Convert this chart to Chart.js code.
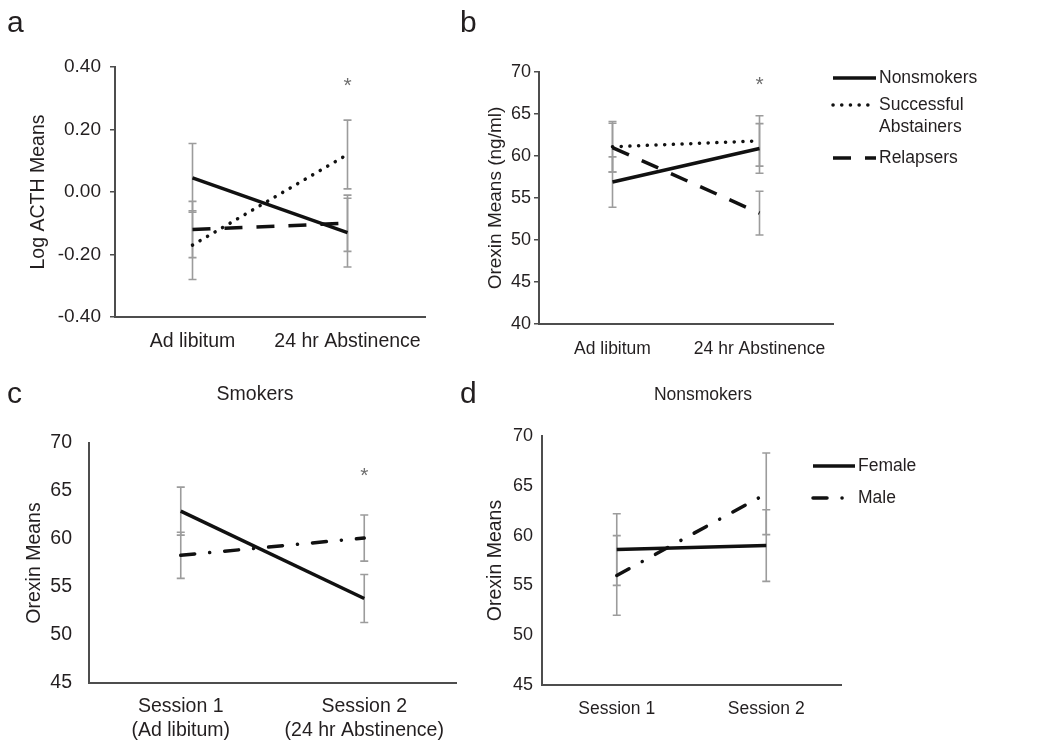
<!DOCTYPE html>
<html>
<head>
<meta charset="utf-8">
<script src="https://cdn.jsdelivr.net/npm/chart.js@4.4.1/dist/chart.umd.min.js"></script>
<style>
  body { margin: 0; background: #fff; width: 1050px; height: 749px; position: relative; overflow: hidden;
         font-family: "Liberation Sans", Arial, sans-serif; color: #231f20; }
  canvas { position: absolute; }
  .lbl { position: absolute; font-size: 30px; line-height: 30px; }
  .ttl { position: absolute; line-height: 18px; transform: translateX(-50%); white-space: nowrap; }
</style>
</head>
<body>
<canvas id="chartA" width="460" height="370" style="left:0;top:0"></canvas>
<canvas id="chartB" width="590" height="370" style="left:460px;top:0"></canvas>
<canvas id="chartC" width="460" height="379" style="left:0;top:370px"></canvas>
<canvas id="chartD" width="590" height="379" style="left:460px;top:370px"></canvas>

<div class="lbl" style="left:7px;top:7px">a</div>
<div class="lbl" style="left:460px;top:7px">b</div>
<div class="lbl" style="left:7px;top:378px">c</div>
<div class="lbl" style="left:460px;top:378px">d</div>
<div class="ttl" style="left:255px;top:384px;font-size:19.5px">Smokers</div>
<div class="ttl" style="left:703px;top:385px;font-size:17.5px">Nonsmokers</div>

<script>
// categories
const abstinenceLabels = ['Ad libitum', '24 hr Abstinence'];
const sessionLabelsLong = [['Session 1', '(Ad libitum)'], ['Session 2', '(24 hr Abstinence)']];
const sessionLabels = ['Session 1', 'Session 2'];

// tick labels
const acthTicks = [-0.40, -0.20, 0.00, 0.20, 0.40];
const orexinTicksB = [40, 45, 50, 55, 60, 65, 70];
const orexinTicksCD = [45, 50, 55, 60, 65, 70];

// panel a - log ACTH
const acthNonsmokers = [0.045, -0.13];
const acthNonsmokersErr = [0.11, 0.11];
const acthAbstainers = [-0.17, 0.12];
const acthAbstainersErr = [0.11, 0.11];
const acthRelapsers = [-0.12, -0.10];
const acthRelapsersErr = [0.09, 0.09];
const acthStar = [null, 0.36];

// panel b - orexin by group
const orexinNonsmokers = [56.9, 60.9];
const orexinNonsmokersErr = [3.0, 2.95];
const orexinAbstainers = [61.1, 61.8];
const orexinAbstainersErr = [3.0, 3.0];
const orexinRelapsers = [61.0, 53.2];
const orexinRelapsersErr = [2.9, 2.6];
const orexinStar = [null, 69.2];

// panel c - smokers by sex
const smokersFemale = [62.9, 53.8];
const smokersFemaleErr = [2.5, 2.5];
const smokersMale = [58.3, 60.1];
const smokersMaleErr = [2.4, 2.4];
const smokersStar = [null, 67.2];

// panel d - nonsmokers by sex
const nonsmokersFemale = [58.6, 59.0];
const nonsmokersFemaleErr = [3.6, 3.6];
const nonsmokersMale = [56.0, 64.2];
const nonsmokersMaleErr = [4.0, 4.1];

const FONT = '"Liberation Sans", Arial, sans-serif';
const INK = '#231f20';
const AXIS = '#4d4d4d';

// line styles
const solid = { borderDash: [], borderCapStyle: 'butt' };
const dotted = { borderDash: [0.1, 8.6], borderCapStyle: 'round' };
const dashed = { borderDash: [18, 14], borderCapStyle: 'butt' };
const dashDot = { borderDash: [14, 15, 0.1, 15], borderCapStyle: 'round' };

function series(label, data, errors, style) {
  return Object.assign({
    label: label, data: data, errors: errors,
    borderColor: '#111', borderWidth: 3.5, pointRadius: 0, tension: 0, fill: false
  }, style);
}

const errorBars = {
  id: 'errorBars',
  beforeDatasetsDraw(chart) {
    const ctx = chart.ctx, y = chart.scales.y;
    ctx.save();
    ctx.strokeStyle = '#9c9c9c';
    ctx.lineWidth = 1.6;
    ctx.setLineDash([]);
    chart.data.datasets.forEach((ds, di) => {
      if (!ds.errors) return;
      chart.getDatasetMeta(di).data.forEach((pt, i) => {
        const top = y.getPixelForValue(ds.data[i] + ds.errors[i]);
        const bot = y.getPixelForValue(ds.data[i] - ds.errors[i]);
        ctx.beginPath();
        ctx.moveTo(pt.x, top); ctx.lineTo(pt.x, bot);
        ctx.moveTo(pt.x - 4, top); ctx.lineTo(pt.x + 4, top);
        ctx.moveTo(pt.x - 4, bot); ctx.lineTo(pt.x + 4, bot);
        ctx.stroke();
      });
    });
    ctx.restore();
  }
};

const stars = {
  id: 'stars',
  afterDatasetsDraw(chart, args, opts) {
    if (!opts.values) return;
    const ctx = chart.ctx;
    ctx.save();
    ctx.fillStyle = '#6e6e6e';
    ctx.font = '21px ' + FONT;
    ctx.textAlign = 'center';
    ctx.textBaseline = 'alphabetic';
    opts.values.forEach((v, i) => {
      if (v == null) return;
      const x = chart.scales.x.getPixelForValue(i);
      const y = chart.scales.y.getPixelForValue(v);
      ctx.fillText('*', x, y + 12);
    });
    ctx.restore();
  }
};

// legend with real line samples
const lineLegend = {
  id: 'lineLegend',
  afterDraw(chart, args, opts) {
    if (!opts.rows) return;
    const ctx = chart.ctx;
    ctx.save();
    ctx.font = opts.size + 'px ' + FONT;
    ctx.fillStyle = INK;
    ctx.textBaseline = 'middle';
    chart.data.datasets.forEach((ds, i) => {
      const y = opts.rows[i];
      ctx.strokeStyle = ds.borderColor;
      ctx.lineWidth = ds.borderWidth;
      ctx.lineCap = ds.borderCapStyle;
      ctx.setLineDash(ds.borderDash);
      ctx.beginPath();
      ctx.moveTo(opts.x, y);
      ctx.lineTo(opts.x + opts.sample, y);
      ctx.stroke();
      ds.label.split('\n').forEach((t, k) => ctx.fillText(t, opts.x + opts.sample + 3, y + k * 22));
    });
    ctx.restore();
  }
};

function makeChart(id, labels, datasets, o) {
  return new Chart(document.getElementById(id), {
    type: 'line',
    data: { labels: labels, datasets: datasets },
    plugins: [errorBars, stars, lineLegend],
    options: {
      responsive: false,
      animation: false,
      layout: { padding: { left: o.left, top: o.top, right: o.right, bottom: 0 } },
      plugins: {
        legend: { display: false },
        tooltip: { enabled: false },
        stars: { values: o.star },
        lineLegend: o.legend || {}
      },
      scales: {
        x: {
          offset: true,
          grid: { display: false, drawTicks: false },
          border: { display: true, color: AXIS, width: 2 },
          ticks: { color: INK, font: { family: FONT, size: o.xSize, lineHeight: 1.25 }, padding: o.xPad,
                   maxRotation: 0, autoSkip: false },
          afterFit: s => { s.height = o.xHeight; }
        },
        y: {
          min: o.ticks[0], max: o.ticks[o.ticks.length - 1],
          afterBuildTicks: s => { s.ticks = o.ticks.map(v => ({ value: v })); },
          grid: { display: true, drawOnChartArea: false, drawTicks: o.yTickMarks, tickLength: 5,
                  color: AXIS, lineWidth: 1.5 },
          border: { display: true, color: AXIS, width: 2 },
          ticks: { color: INK, font: { family: FONT, size: o.tickSize }, padding: o.yPad,
                   callback: v => o.fmt ? v.toFixed(2) : String(v) },
          title: { display: true, text: o.yTitle, color: INK,
                   font: { family: FONT, size: o.titleSize, lineHeight: 1.2 }, padding: { top: 0, bottom: 0 } },
          afterFit: s => { s.width = o.yWidth; }
        }
      }
    }
  });
}

makeChart('chartA', abstinenceLabels, [
  series('Nonsmokers', acthNonsmokers, acthNonsmokersErr, solid),
  series('Successful\nAbstainers', acthAbstainers, acthAbstainersErr, dotted),
  series('Relapsers', acthRelapsers, acthRelapsersErr, dashed)
], { left: 27, top: 67, right: 35, yWidth: 88, xHeight: 53, xPad: 12, yPad: 9, yTickMarks: true,
     tickSize: 19, xSize: 19.5, titleSize: 19.5,
     ticks: acthTicks, fmt: true, yTitle: 'Log ACTH Means', star: acthStar });

makeChart('chartB', abstinenceLabels, [
  series('Nonsmokers', orexinNonsmokers, orexinNonsmokersErr, solid),
  series('Successful\nAbstainers', orexinAbstainers, orexinAbstainersErr, dotted),
  series('Relapsers', orexinRelapsers, orexinRelapsersErr, dashed)
], { left: 24, top: 72, right: 217, yWidth: 55, xHeight: 46, xPad: 14, yPad: 3, yTickMarks: true,
     tickSize: 18, xSize: 17.5, titleSize: 19,
     ticks: orexinTicksB, yTitle: 'Orexin Means (ng/ml)', star: orexinStar,
     legend: { x: 373, sample: 43, size: 17.5, rows: [78, 105, 158] } });

makeChart('chartC', sessionLabelsLong, [
  series('Female', smokersFemale, smokersFemaleErr, solid),
  series('Male', smokersMale, smokersMaleErr, dashDot)
], { left: 23, top: 73, right: 4, yWidth: 66, xHeight: 66, xPad: 11, yPad: 17, yTickMarks: false,
     tickSize: 19.5, xSize: 19.5, titleSize: 19.5,
     ticks: orexinTicksCD, yTitle: 'Orexin Means', star: smokersStar });

makeChart('chartD', sessionLabels, [
  series('Female', nonsmokersFemale, nonsmokersFemaleErr, solid),
  series('Male', nonsmokersMale, nonsmokersMaleErr, dashDot)
], { left: 24, top: 66, right: 209, yWidth: 58, xHeight: 64, xPad: 13, yPad: 9, yTickMarks: false,
     tickSize: 18, xSize: 17.5, titleSize: 19.5,
     ticks: orexinTicksCD, yTitle: 'Orexin Means',
     legend: { x: 353, sample: 42, size: 17.5, rows: [96, 128] } });
</script>
</body>
</html>
